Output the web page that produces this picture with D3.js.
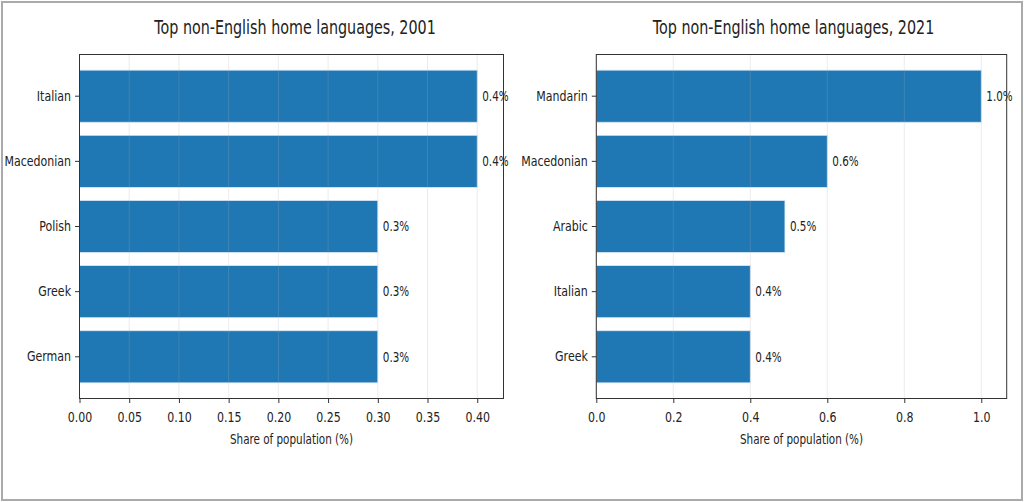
<!DOCTYPE html>
<html>
<head>
<meta charset="utf-8">
<script src="https://cdn.jsdelivr.net/npm/d3@7"></script>
<style>
  body { margin: 0; background: #fff; }
  svg text { font-family: "DejaVu Sans", sans-serif; fill: #222; }
</style>
</head>
<body>
<div id="chart"></div>
<script>
// Data
let languages2001 = ["Italian", "Macedonian", "Polish", "Greek", "German"];
let shares2001 = [0.4, 0.4, 0.3, 0.3, 0.3];
let ticks2001 = [0, 0.05, 0.1, 0.15, 0.2, 0.25, 0.3, 0.35, 0.4];

let languages2021 = ["Mandarin", "Macedonian", "Arabic", "Italian", "Greek"];
let shares2021 = [1.0, 0.6, 0.49, 0.4, 0.4];
let ticks2021 = [0, 0.2, 0.4, 0.6, 0.8, 1.0];

let width = 1024;
let height = 502;
let barFill = "#1f77b4";
// The picture is squeezed sideways, so text is scaled horizontally
let sx = 0.77;

const svg = d3.select("#chart").append("svg")
  .attr("width", width)
  .attr("height", height);

// Outer frame
svg.append("rect")
  .attr("x", 2)
  .attr("y", 2)
  .attr("width", width - 4)
  .attr("height", height - 4)
  .attr("fill", "#fff")
  .attr("stroke", "#aaa")
  .attr("stroke-width", 2);

// Place a squeezed text at x, y
function squeezedText(parent, x, y) {
  return parent.append("text")
    .attr("transform", `translate(${x},${y}) scale(${sx},1)`);
}

// Squeeze axis tick labels around their tick
function squeezeAxisText(axisG, fontSize) {
  axisG.selectAll("text")
    .attr("font-size", fontSize)
    .attr("fill", "#222")
    .attr("x", function () { return +d3.select(this).attr("x") / sx; })
    .attr("transform", `scale(${sx},1)`);
}

function drawPanel(opts) {
  let { left, right, top, bottom, titleX, title, languages, shares, ticks, tickFormat } = opts;
  let rows = languages.map((d, i) => ({ language: d, share: shares[i] }));

  let xScale = d3.scaleLinear()
    .domain([0, d3.max(shares) * 1.066])
    .range([left, right]);

  let yScale = d3.scaleBand()
    .domain(languages)
    .range([top, bottom])
    .paddingInner(0.2)
    .paddingOuter(0.24);

  const g = svg.append("g");

  // Bars
  g.append("g")
    .selectAll("rect")
    .data(rows)
    .join("rect")
    .attr("x", xScale(0))
    .attr("y", (d) => yScale(d.language))
    .attr("width", (d) => xScale(d.share) - xScale(0))
    .attr("height", yScale.bandwidth())
    .attr("fill", barFill)
    .attr("stroke", "#dbe9f5")
    .attr("stroke-width", 0.8);

  // Grid (drawn over bars, faint)
  g.append("g")
    .selectAll("line")
    .data(ticks)
    .join("line")
    .attr("x1", (d) => xScale(d))
    .attr("x2", (d) => xScale(d))
    .attr("y1", top)
    .attr("y2", bottom)
    .attr("stroke", "#b0b0b0")
    .attr("stroke-opacity", 0.3)
    .attr("stroke-width", 0.8);

  // Frame
  g.append("rect")
    .attr("x", left)
    .attr("y", top)
    .attr("width", right - left)
    .attr("height", bottom - top)
    .attr("fill", "none")
    .attr("stroke", "#333")
    .attr("stroke-width", 1);

  // Value labels
  rows.forEach((d) => {
    squeezedText(g, xScale(d.share) + 5, yScale(d.language) + yScale.bandwidth() / 2)
      .attr("dy", "0.35em")
      .attr("font-size", 13.5)
      .text(`${d.share.toFixed(1)}%`);
  });

  // X axis
  const xAxisG = g.append("g")
    .attr("transform", `translate(0,${bottom})`)
    .call(d3.axisBottom(xScale).tickValues(ticks).tickFormat(tickFormat).tickSize(4.5).tickPadding(8.5));
  xAxisG.select(".domain").remove();
  xAxisG.selectAll("line").attr("stroke", "#333");
  squeezeAxisText(xAxisG, 14.3);

  // Y axis
  const yAxisG = g.append("g")
    .attr("transform", `translate(${left},0)`)
    .call(d3.axisLeft(yScale).tickSize(4.5).tickPadding(4));
  yAxisG.select(".domain").remove();
  yAxisG.selectAll("line").attr("stroke", "#333");
  squeezeAxisText(yAxisG, 14.3);

  // Axis title
  squeezedText(g, (left + right) / 2, bottom + 45.5)
    .attr("text-anchor", "middle")
    .attr("font-size", 13.5)
    .text("Share of population (%)");

  // Title
  squeezedText(g, titleX, 34)
    .attr("text-anchor", "middle")
    .attr("font-size", 18.6)
    .text(title);
}

drawPanel({
  left: 79.5, right: 503.5, top: 54.5, bottom: 398.5, titleX: 295,
  title: "Top non-English home languages, 2001",
  languages: languages2001, shares: shares2001, ticks: ticks2001,
  tickFormat: d3.format(".2f"),
});

drawPanel({
  left: 596.3, right: 1006.7, top: 54.5, bottom: 398.5, titleX: 793.5,
  title: "Top non-English home languages, 2021",
  languages: languages2021, shares: shares2021, ticks: ticks2021,
  tickFormat: d3.format(".1f"),
});
</script>
</body>
</html>
